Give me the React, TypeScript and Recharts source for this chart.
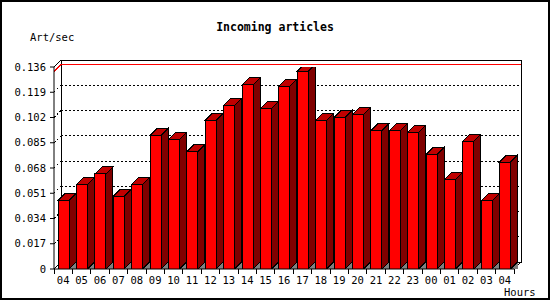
import { BarChart, Bar, XAxis, YAxis, CartesianGrid, ReferenceArea, ReferenceLine } from "recharts";

const hours = ["04", "05", "06", "07", "08", "09", "10", "11", "12", "13", "14", "15", "16", "17", "18", "19", "20", "21", "22", "23", "00", "01", "02", "03", "04"];
const artPerSec = [0.046, 0.057, 0.064, 0.049, 0.057, 0.09, 0.087, 0.079, 0.1, 0.11, 0.124, 0.108, 0.123, 0.133, 0.1, 0.102, 0.104, 0.093, 0.093, 0.092, 0.077, 0.06, 0.086, 0.046, 0.072];
const yTicks = [0, 0.017, 0.034, 0.051, 0.068, 0.085, 0.102, 0.119, 0.136];

const data = hours.map((hour, i) => ({ hour, rate: artPerSec[i] }));
const peak = Math.max(...artPerSec);

// depth of the fake 3d box, px
const D = 7;
const FONT = '"DejaVu Sans Mono", monospace';

function Bar3D(props: any) {
  const { x, y, width, height } = props;
  if (!height || height <= 0) return null;
  const r = x + width;
  const b = y + height;
  return (
    <g shapeRendering="crispEdges">
      <polygon points={`${r},${b} ${r + D},${b - D} ${r + D},${b}`} fill="#808080" />
      <polygon points={`${r},${b} ${r + D},${b - D} ${r + D},${y - D} ${r},${y}`} fill="#800000" stroke="#000" />
      <polygon points={`${x},${y} ${x + D},${y - D} ${r + D},${y - D} ${r},${y}`} fill="#c00000" stroke="#000" />
      <rect x={x} y={y} width={width} height={height} fill="#ff0000" stroke="#000" />
    </g>
  );
}

function BackWall(props: any) {
  const { x, y, width, height } = props;
  const r = x + width;
  const b = y + height;
  return (
    <g fill="none" stroke="#000" shapeRendering="crispEdges">
      <rect x={x + D} y={y - D} width={width} height={height} />
      <line x1={x} y1={y} x2={x + D} y2={y - D} />
      <line x1={x} y1={b} x2={x + D} y2={b - D} />
      <line x1={r} y1={b} x2={r + D} y2={b - D} />
    </g>
  );
}

function GridLine(props: any) {
  const { x1, x2, y1, y, height, index } = props;
  if (Math.abs(y1 - y) < 1 || Math.abs(y1 - (y + height)) < 1) return <g key={`g-${index}`} />;
  return (
    <g key={`g-${index}`} stroke="#000" strokeDasharray="2 2" fill="none" shapeRendering="crispEdges">
      <line x1={x1} y1={y1} x2={x1 + D} y2={y1 - D} />
      <line x1={x1 + D} y1={y1 - D} x2={x2 + D} y2={y1 - D} />
    </g>
  );
}

function PeakLine(props: any) {
  const { x1, x2, y1 } = props;
  return (
    <g stroke="#ff0000" fill="none" shapeRendering="crispEdges">
      <line x1={x1} y1={y1} x2={x1 + D} y2={y1 - D} />
      <line x1={x1 + D} y1={y1 - D} x2={x2 + D} y2={y1 - D} />
    </g>
  );
}

function HourTick(props: any) {
  const { x, y, payload, index, visibleTicksCount } = props;
  const half = payload?.offset || 9.2;
  return (
    <g>
      <line x1={x - half} y1={y} x2={x - half} y2={y + 5} stroke="#000" shapeRendering="crispEdges" />
      {index === visibleTicksCount - 1 && (
        <line x1={x + half} y1={y} x2={x + half} y2={y + 5} stroke="#000" shapeRendering="crispEdges" />
      )}
      <text x={x} y={y + 15} textAnchor="middle" fontSize={10.5} fontFamily={FONT} fill="#000">
        {payload.value}
      </text>
    </g>
  );
}

export default function App() {
  return (
    <div style={{ position: "absolute", left: 0, top: 0, width: 550, height: 300, background: "#fff" }}>
      <BarChart width={550} height={300} data={data} margin={{ top: 67, right: 36, bottom: 0, left: 0 }} barSize={11}>
        <CartesianGrid vertical={false} horizontal={(p: any) => GridLine(p)} />
        <ReferenceArea y1={0} y2={0.136} shape={(p: any) => BackWall(p)} ifOverflow="visible" />
        <ReferenceLine y={peak} shape={(p: any) => PeakLine(p)} ifOverflow="visible" />
        <XAxis
          dataKey="hour"
          height={31}
          interval={0}
          tickLine={false}
          tickSize={0}
          tickMargin={0}
          stroke="#000"
          tick={(p: any) => <HourTick {...p} />}
        />
        <YAxis
          domain={[0, 0.136]}
          ticks={yTicks}
          interval={0}
          width={54}
          tickSize={4}
          tickMargin={4}
          stroke="#000"
          allowDataOverflow
          tick={{ fontSize: 10.5, fontFamily: FONT, fill: "#000" }}
          tickFormatter={(v: number) => (v === 0 ? "0" : v.toFixed(3))}
        />
        <Bar dataKey="rate" shape={(p: any) => Bar3D(p)} isAnimationActive={false} />
      </BarChart>
      <svg width={550} height={300} style={{ position: "absolute", left: 0, top: 0, pointerEvents: "none" }}>
        <text x={275} y={31} textAnchor="middle" fontSize={11.5} fontWeight="bold" fontFamily={FONT}>
          Incoming articles
        </text>
        <text x={30} y={41} fontSize={10.5} fontFamily={FONT}>
          Art/sec
        </text>
        <text x={504} y={296} fontSize={10.5} fontFamily={FONT}>
          Hours
        </text>
        <rect x={1} y={1} width={548} height={298} fill="none" stroke="#000" strokeWidth={2} />
      </svg>
    </div>
  );
}
